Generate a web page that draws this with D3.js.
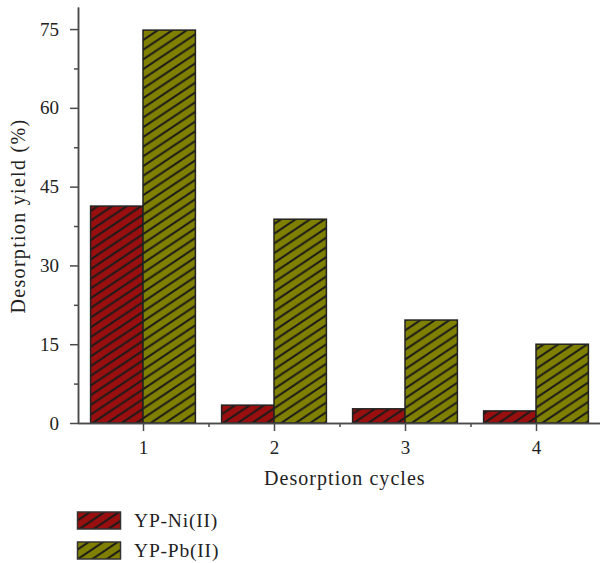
<!DOCTYPE html>
<html>
<head>
<meta charset="utf-8">
<script src="https://cdn.jsdelivr.net/npm/d3@7/dist/d3.min.js"></script>
<style>
  html, body { margin: 0; padding: 0; background: #fff; }
  svg { display: block; }
  text { font-family: "Liberation Serif", "Times New Roman", serif; fill: #222; }
</style>
</head>
<body>
<svg id="chart" width="600" height="563"></svg>
<script>
// Desorption cycles and yields (%) for each adsorbent
const cycles = [1, 2, 3, 4];
const niYield = [41.3, 3.4, 2.7, 2.3];
const pbYield = [74.8, 38.8, 19.6, 15.0];
const seriesNames = ["YP-Ni(II)", "YP-Pb(II)"];
const seriesColors = ["#990f0f", "#808000"];
const yMajorTicks = [0, 15, 30, 45, 60, 75];
const yMinorTicks = [7.5, 22.5, 37.5, 52.5, 67.5];
const xMinorTicks = [1.5, 2.5, 3.5];

const svg = d3.select("#chart");
const axisColor = "#4a4a4a";

const x = d3.scaleLinear().domain([0.5, 4.5]).range([77.5, 601.5]);
const y = d3.scaleLinear().domain([0, 79.2]).range([423, 7]);
const barW = 0.4;
const PW = 14.5, PH = 9.7; // hatch tile (shallow diagonal)

// diagonal hatch patterns, one per series
const defs = svg.append("defs");
seriesColors.forEach((c, i) => {
  const p = defs.append("pattern")
    .attr("id", "hatch" + i)
    .attr("patternUnits", "userSpaceOnUse")
    .attr("width", PW).attr("height", PH);
  p.append("rect").attr("width", PW).attr("height", PH).attr("fill", c);
  p.append("path")
    .attr("d", `M${-PW},${2*PH} L${2*PW},${-PH} M${-2*PW},${2*PH} L${PW},${-PH} M0,${2*PH} L${3*PW},${-PH}`)
    .attr("stroke", "#1a1a1a").attr("stroke-width", 2);
});

// bars
const series = [niYield, pbYield];
series.forEach((vals, s) => {
  svg.append("g").selectAll("rect")
    .data(cycles.map((c, i) => ({ c, v: vals[i] })))
    .join("rect")
    .attr("x", d => s === 0 ? x(d.c - barW) : x(d.c))
    .attr("width", x(barW) - x(0))
    .attr("y", d => y(d.v))
    .attr("height", d => y(0) - y(d.v))
    .attr("fill", "url(#hatch" + s + ")")
    .attr("stroke", "#222")
    .attr("stroke-width", 1.5);
});

// y axis
svg.append("g").attr("transform", "translate(78,0)")
  .call(d3.axisLeft(y).tickValues(yMajorTicks).tickSize(8).tickPadding(11).tickSizeOuter(0));
svg.append("g").attr("transform", "translate(78,0)")
  .call(d3.axisLeft(y).tickValues(yMinorTicks).tickSize(4).tickFormat("").tickSizeOuter(0));

// x axis
svg.append("g").attr("transform", "translate(0,423)")
  .call(d3.axisBottom(x).tickValues(cycles).tickFormat(d3.format("d"))
    .tickSize(8).tickPadding(10).tickSizeOuter(0));
svg.append("g").attr("transform", "translate(0,423)")
  .call(d3.axisBottom(x).tickValues(xMinorTicks).tickSize(4).tickFormat("").tickSizeOuter(0));

svg.selectAll(".domain, .tick line").attr("stroke", axisColor).attr("stroke-width", 1.5);
svg.selectAll(".tick text").attr("font-size", 19).attr("fill", "#2a2a2a")
  .style("font-family", '"Liberation Serif", serif');

// axis titles
svg.append("text")
  .attr("x", 264).attr("y", 485)
  .attr("font-size", 20)
  .attr("letter-spacing", 1.05)
  .text("Desorption cycles");
svg.append("text")
  .attr("transform", "translate(25,216) rotate(-90)")
  .attr("text-anchor", "middle")
  .attr("font-size", 20)
  .attr("letter-spacing", 1.3)
  .text("Desorption yield (%)");

// legend
const legend = svg.append("g");
seriesNames.forEach((name, i) => {
  const gy = 512 + i * 30;
  legend.append("rect")
    .attr("x", 77.5).attr("y", gy).attr("width", 43).attr("height", 17)
    .attr("fill", "url(#hatch" + i + ")")
    .attr("stroke", "#333").attr("stroke-width", 1.5);
  legend.append("text")
    .attr("x", 134).attr("y", gy + 15)
    .attr("font-size", 19.5)
    .attr("letter-spacing", 0.8)
    .text(name);
});
</script>
</body>
</html>
